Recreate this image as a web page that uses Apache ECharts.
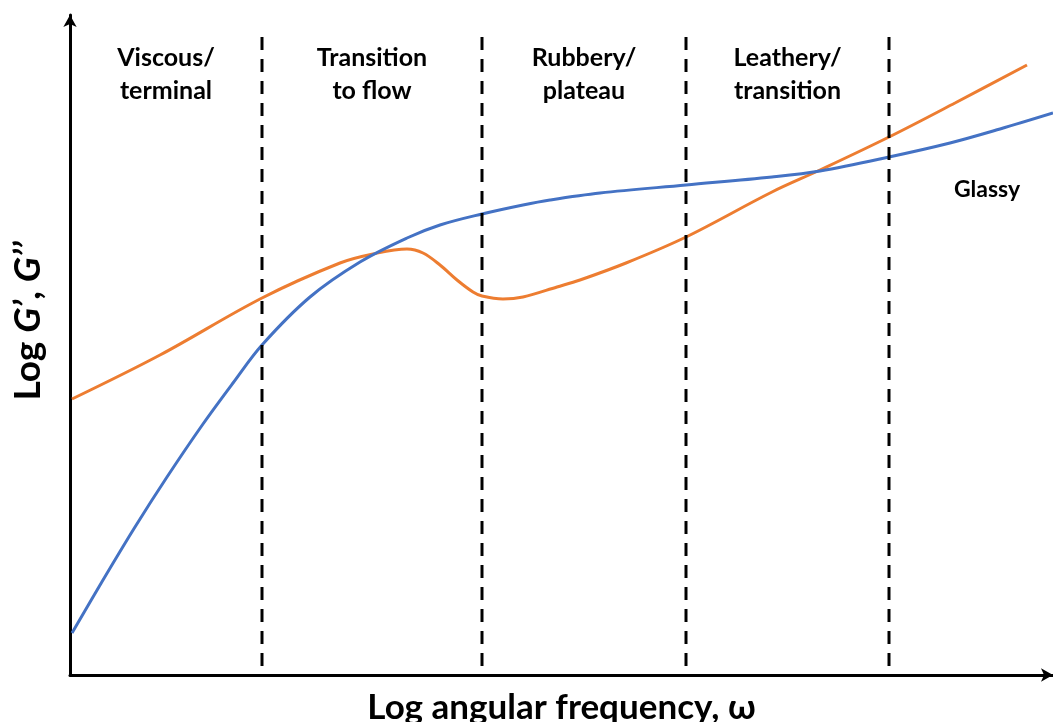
<!DOCTYPE html>
<html><head><meta charset="utf-8">
<script src="https://cdn.jsdelivr.net/npm/echarts@6/dist/echarts.min.js"></script>
<style>html,body{margin:0;padding:0;background:#fff}#c{width:1053px;height:722px}</style>
</head><body><div id="c"></div>
<script>
// Arbitrary units: x = log angular frequency, y = log modulus
const storageModulus = [[2,42],[33,95],[65,148],[97,198],[133,251],[163,292],[192,330],[240,378],[290,413],[337,437],[370,450],[412,461],[453,470],[480,475],[530,482],[616,490],[702,498],[750,504],[819,518],[880,532],[930,546],[983,562]];
const lossModulus = [[2,276],[90,320],[192,377],[270,412],[303,421],[337,426],[353,422],[370,410],[387,395],[403,383],[412,379],[433,376],[453,378],[487,388],[510,395],[556,412],[616,438],[702,483],[750,505],[819,538],[885,572],[957,610]];
const regionBounds = [0,192,412,616,819,983];
const regionNames = ['Viscous/\nterminal','Transition\nto flow','Rubbery/\nplateau','Leathery/\ntransition','Glassy'];
const xMax = 983, yMax = 660, dashTop = 638;

const FONT = 'Lato';
const chart = echarts.init(document.getElementById('c'));

const dashSeries = regionBounds.slice(1, 5).map(b => ({
  type: 'line', data: [[b, dashTop], [b, 0]], symbol: 'none', silent: true, z: 5,
  lineStyle: { color: '#000', width: 3, type: [13, 9] }
}));

const labelData = regionNames.map((n, i) => {
  const mid = (regionBounds[i] + regionBounds[i + 1]) / 2;
  if (i === 4) return { value: [917, 485], name: n, label: { fontSize: 23, fontWeight: 'bold', fontFamily: FONT } };
  return { value: [mid, 601], name: n };
});

chart.setOption({
  animation: false,
  grid: { left: 70, right: 0, top: 15, bottom: 47, containLabel: false, outerBoundsMode: 'none' },
  xAxis: {
    type: 'value', min: 0, max: xMax,
    name: 'Log angular frequency, ω', nameLocation: 'middle', nameGap: 15,
    nameTextStyle: { fontFamily: FONT, fontWeight: 'bold', fontSize: 35, color: '#000', verticalAlign: 'top' },
    axisLine: { show: true, symbol: ['none', 'arrow'], symbolSize: [10, 12], lineStyle: { color: '#000', width: 3 } },
    axisTick: { show: false }, axisLabel: { show: false }, splitLine: { show: false }
  },
  yAxis: {
    type: 'value', min: 0, max: yMax,
    axisLine: { show: true, symbol: ['none', 'arrow'], symbolSize: [10, 12], lineStyle: { color: '#000', width: 3 } },
    axisTick: { show: false }, axisLabel: { show: false }, splitLine: { show: false }
  },
  graphic: [{
    type: 'text', x: 28, y: 321, rotation: Math.PI / 2,
    style: {
      text: '{n|Log }{i|G’}{n|, }{i|G’’}', align: 'center', verticalAlign: 'middle',
      rich: {
        n: { fontFamily: FONT, fontWeight: 'bold', fontSize: 37, fill: '#000' },
        i: { fontFamily: FONT, fontWeight: 'bold', fontStyle: 'italic', fontSize: 37, fill: '#000' }
      }
    }
  }],
  series: [
    { name: "G''", type: 'line', data: lossModulus, smooth: 0.35, symbol: 'none',
      lineStyle: { color: '#ED7D31', width: 3 }, z: 3 },
    { name: "G'", type: 'line', data: storageModulus, smooth: 0.35, symbol: 'none',
      lineStyle: { color: '#4472C4', width: 3 }, z: 4 },
    ...dashSeries,
    { type: 'scatter', data: labelData, symbolSize: 0, silent: true, z: 6,
      itemStyle: { opacity: 1, color: 'transparent' },
      label: { show: true, position: 'inside', formatter: p => p.name, fontFamily: FONT, fontWeight: 'bold',
        fontSize: 25, lineHeight: 33, color: '#000', opacity: 1, textBorderWidth: 0, align: 'center' } }
  ]
});
</script></body></html>
